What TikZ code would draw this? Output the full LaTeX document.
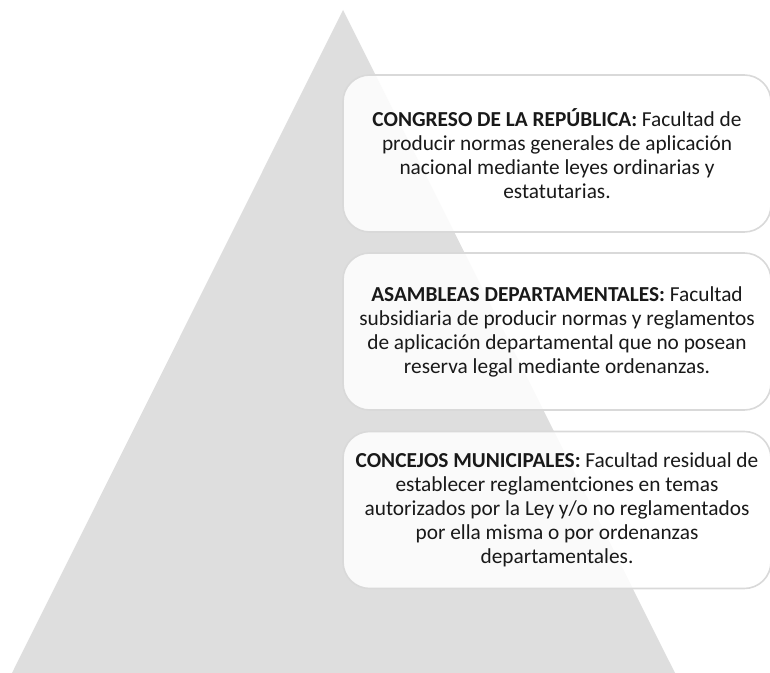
\documentclass[tikz,border=0pt]{standalone}
\usepackage{fontspec}
\setmainfont{Carlito}

\begin{document}
\begin{tikzpicture}[x=0.75pt,y=-0.75pt,
level/.style={draw=black!15, line width=1.2pt, fill=white, fill opacity=0.85, text opacity=1,
  rounded corners=20pt, minimum width=321pt, minimum height=117.75pt, inner sep=0pt,
  align=center, text=black!90, font=\fontsize{16}{18}\selectfont}]
\useasboundingbox (0,0) rectangle (770,673);
\fill[black!13] (343,10) -- (675,673) -- (12,673) -- cycle;
\node[level] (congreso) at (557,153.5) {\textbf{CONGRESO DE LA REPÚBLICA:} Facultad de\\producir normas generales de aplicación\\nacional mediante leyes ordinarias y\\estatutarias.};
\node[level] (asambleas) at (557,331.5) {\textbf{ASAMBLEAS DEPARTAMENTALES:} Facultad\\subsidiaria de producir normas y reglamentos\\de aplicación departamental que no posean\\reserva legal mediante ordenanzas.};
\node[level] (concejos) at (557,510) {\textbf{CONCEJOS MUNICIPALES:} Facultad residual de\\establecer reglamentciones en temas\\autorizados por la Ley y/o no reglamentados\\por ella misma o por ordenanzas\\departamentales.};
\end{tikzpicture}
\end{document}
